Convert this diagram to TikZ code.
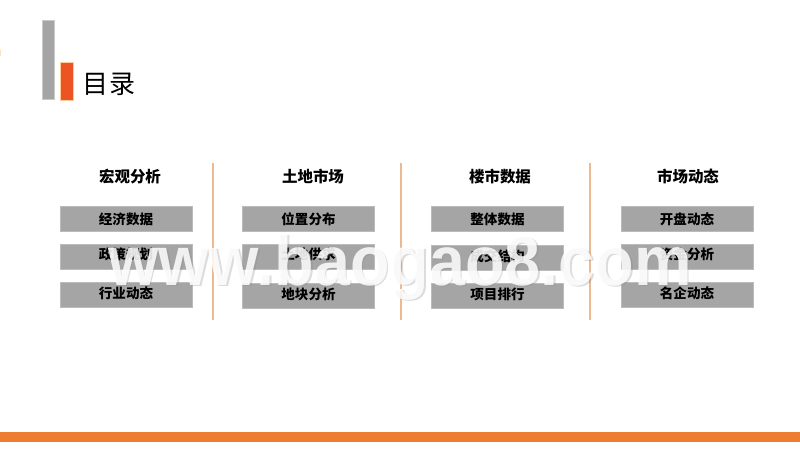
\documentclass[tikz,border=0pt]{standalone}
\usepackage{fontspec}
\setmainfont{Liberation Sans}
\newfontfamily\cjk{Noto Sans CJK SC}
\begin{document}
\begin{tikzpicture}
	\tikzstyle{itembox}=[fill=boxgray,draw=boxgray!75,line width=0.3pt,minimum width=2.64cm,minimum height=0.5cm,inner sep=0pt,font=\cjk\bfseries\fontsize{7.7pt}{9pt}\selectfont]
	\tikzstyle{liftbox}=[itembox,text depth=3pt]
	\tikzstyle{heading}=[inner sep=0pt,font=\cjk\bfseries\fontsize{8.8pt}{10pt}\selectfont]
	\tikzstyle{divider}=[draw=lineorange,line width=0.8pt]
	\tikzstyle{watermark}=[anchor=base,inner sep=0pt,xscale=0.92,font=\bfseries\fontsize{40pt}{42pt}\selectfont]
	\definecolor{boxgray}{HTML}{A5A5A5}
	\definecolor{lineorange}{HTML}{EBB992}
	\useasboundingbox (0,0) rectangle (16,9);
	\fill[white] (0,0) rectangle (16,9);
	\fill[boxgray,draw=boxgray!60,line width=0.3pt] (0.84,7.02) rectangle (1.08,8.6);
	\fill[fill={rgb,255:red,236;green,85;blue,35},draw=orange!40,line width=0.3pt] (1.2,7) rectangle (1.46,7.76);
	\fill[orange!25] (0,7.87) rectangle (0.03,8);
	\fill[fill={rgb,255:red,237;green,125;blue,49}] (0,0.16) rectangle (16,0.36);
	\node[inner sep=0pt,font=\cjk\fontsize{14.8pt}{16pt}\selectfont] (title) at (2.18,7.31) {目录};
	\node[heading] (h1) at (2.6,5.46) {宏观分析};
	\node[heading] (h2) at (6.26,5.46) {土地市场};
	\node[heading] (h3) at (10,5.46) {楼市数据};
	\node[heading] (h4) at (13.76,5.46) {市场动态};
	\node[itembox] (a1) at (2.52,4.62) {经济数据};
	\node[liftbox] (a2) at (2.52,3.87) {政策规划};
	\node[liftbox] (a3) at (2.52,3.1) {行业动态};
	\node[itembox] (b1) at (6.17,4.62) {位置分布};
	\node[liftbox] (b2) at (6.17,3.87) {土地供求};
	\node[liftbox] (b3) at (6.17,3.08) {地块分析};
	\node[itembox] (c1) at (9.95,4.62) {整体数据};
	\node[liftbox] (c2) at (9.95,3.84) {成交结构};
	\node[liftbox] (c3) at (9.95,3.08) {项目排行};
	\node[itembox] (d1) at (13.74,4.62) {开盘动态};
	\node[liftbox] (d2) at (13.74,3.87) {资金分析};
	\node[liftbox] (d3) at (13.74,3.1) {名企动态};
	\coordinate (s1) at (4.26,5.74);
	\coordinate (e1) at (4.26,2.6);
	\coordinate (s2) at (8.02,5.74);
	\coordinate (e2) at (8.02,2.6);
	\coordinate (s3) at (11.8,5.74);
	\coordinate (e3) at (11.8,2.6);
	\draw[divider] (s1) -- (e1);
	\draw[divider] (s2) -- (e2);
	\draw[divider] (s3) -- (e3);
	\node[watermark,text=black!45,text opacity=0.3] (wmshadow) at (8.03,3.27) {www.baogao8.com};
	\node[watermark,text=white,text opacity=0.85] (wm) at (8,3.3) {www.baogao8.com};
\end{tikzpicture}
\end{document}
